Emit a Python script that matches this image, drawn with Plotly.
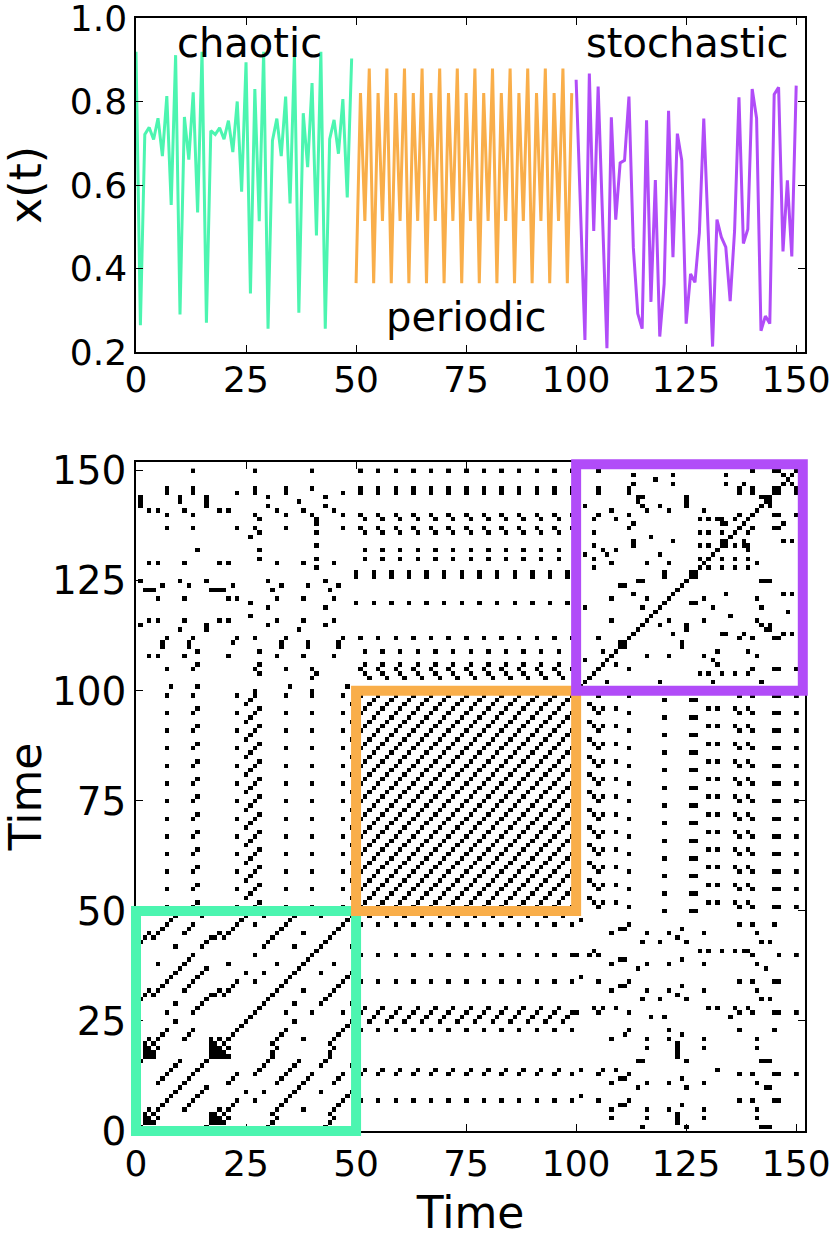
import numpy as np
import plotly.graph_objects as go

# =====================================================
# DATA
# =====================================================

chaotic = [
    0.919, 0.264, 0.721, 0.738, 0.709, 0.760, 0.669, 0.813, 0.552, 0.911,
    0.290, 0.763, 0.661, 0.822, 0.534, 0.919, 0.270, 0.730, 0.721, 0.737,
    0.710, 0.754, 0.679, 0.800, 0.584, 0.894, 0.340, 0.830, 0.513, 0.919,
    0.256, 0.706, 0.759, 0.669, 0.812, 0.556, 0.911, 0.294, 0.772, 0.643,
    0.844, 0.479, 0.919, 0.256, 0.710, 0.756, 0.675, 0.806, 0.570, 0.903,
]

periodic = [
    0.365, 0.820, 0.514, 0.879, 0.365, 0.820, 0.514, 0.879, 0.365, 0.820,
    0.514, 0.879, 0.365, 0.820, 0.514, 0.879, 0.365, 0.820, 0.514, 0.879,
    0.365, 0.820, 0.514, 0.879, 0.365, 0.820, 0.514, 0.879, 0.365, 0.820,
    0.514, 0.879, 0.365, 0.820, 0.514, 0.879, 0.365, 0.820, 0.514, 0.879,
    0.365, 0.820, 0.514, 0.879, 0.365, 0.820, 0.514, 0.879, 0.365, 0.820,
]

stochastic = [
    0.852, 0.550, 0.229, 0.867, 0.490, 0.836, 0.520, 0.209, 0.762, 0.517,
    0.653, 0.659, 0.812, 0.450, 0.292, 0.256, 0.755, 0.320, 0.612, 0.237,
    0.363, 0.778, 0.427, 0.723, 0.659, 0.268, 0.387, 0.367, 0.486, 0.759,
    0.490, 0.213, 0.517, 0.475, 0.451, 0.322, 0.490, 0.810, 0.460, 0.494,
    0.830, 0.760, 0.251, 0.286, 0.268, 0.817, 0.834, 0.441, 0.611, 0.429,
    0.838,
]

segment_names = ["chaotic", "periodic", "stochastic"]
segment_colors = ["#4cf5b0", "#f9ae4a", "#b14cf8"]
segment_bounds = [0, 50, 100, 151.5]

x_ticks = [0, 25, 50, 75, 100, 125, 150]
y_ticks_top = [0.2, 0.4, 0.6, 0.8, 1.0]

T_MAX = 152
EPS = 0.025

# =====================================================
# SERIES + RECURRENCE MATRIX
# =====================================================

series = [chaotic, periodic, stochastic]
starts = [0, len(chaotic), len(chaotic) + len(periodic)]

x_all = np.array(chaotic + periodic + stochastic)
n = len(x_all)
times = np.arange(n)

recurrence = (np.abs(x_all[:, None] - x_all[None, :]) <= EPS).astype(int)

fig = go.Figure()

for vals, s, name, col in zip(series, starts, segment_names, segment_colors):
    fig.add_trace(
        go.Scatter(
            x=list(range(s, s + len(vals))),
            y=vals,
            mode="lines",
            line=dict(color=col, width=3),
            name=name,
            xaxis="x",
            yaxis="y",
            showlegend=False,
        )
    )

fig.add_trace(
    go.Heatmap(
        x=times,
        y=times,
        z=recurrence,
        colorscale=[[0, "white"], [1, "black"]],
        zmin=0,
        zmax=1,
        showscale=False,
        xaxis="x2",
        yaxis="y2",
    )
)

# =====================================================
# SEGMENT BOXES ON THE RECURRENCE PLOT
# =====================================================


def to_dom(v):
    return v / T_MAX


for i, col in enumerate(segment_colors):
    a = to_dom(segment_bounds[i])
    b = to_dom(segment_bounds[i + 1])
    fig.add_shape(
        type="rect",
        xref="x2 domain",
        yref="y2 domain",
        x0=a, x1=b, y0=a, y1=b,
        line=dict(color=col, width=10),
        fillcolor="rgba(0,0,0,0)",
        layer="above",
    )

# =====================================================
# LABELS
# =====================================================

label_pos = [(25.9, 0.94), (75.2, 0.285), (125.2, 0.94)]
for name, (lx, ly) in zip(segment_names, label_pos):
    fig.add_annotation(
        x=lx, y=ly, xref="x", yref="y",
        text=name, showarrow=False,
        font=dict(size=40, color="black"),
        xanchor="center", yanchor="middle",
    )

W, H = 830, 1241
FONT = "DejaVu Sans, Verdana, sans-serif"

axis_common = dict(
    showline=True,
    linecolor="black",
    linewidth=1.5,
    mirror="allticks",
    ticks="inside",
    ticklen=7,
    tickwidth=1.2,
    tickcolor="black",
    showgrid=False,
    zeroline=False,
    tickfont=dict(size=36, color="black"),
    ticklabeloverflow="allow",
    automargin=False,
)

fig.update_layout(
    width=W,
    height=H,
    margin=dict(l=0, r=0, t=0, b=0),
    paper_bgcolor="white",
    plot_bgcolor="white",
    font=dict(family=FONT, color="black"),
    xaxis=dict(
        axis_common,
        domain=[136 / W, 805 / W],
        range=[0, T_MAX],
        tickvals=x_ticks,
        ticklabelstandoff=-5,
        anchor="y",
    ),
    yaxis=dict(
        axis_common,
        domain=[1 - 352 / H, 1 - 18 / H],
        range=[0.2, 1.0],
        tickvals=y_ticks_top,
        tickformat=".1f",
        title=dict(text="x(t)", font=dict(size=44), standoff=18),
        anchor="x",
    ),
    xaxis2=dict(
        axis_common,
        domain=[136 / W, 805 / W],
        range=[0, T_MAX],
        tickvals=x_ticks,
        title=dict(text="Time", font=dict(size=44), standoff=14),
        anchor="y2",
    ),
    yaxis2=dict(
        axis_common,
        domain=[1 - 1131 / H, 1 - 462 / H],
        range=[0, T_MAX],
        tickvals=x_ticks,
        tickfont=dict(size=39, color="black"),
        title=dict(text="Time", font=dict(size=44), standoff=8),
        anchor="x2",
    ),
)

fig.write_html(
    "out.html",
    config={"displayModeBar": False},
    post_script="document.body.style.margin='0px';"
                "document.body.style.overflow='hidden';",
)
